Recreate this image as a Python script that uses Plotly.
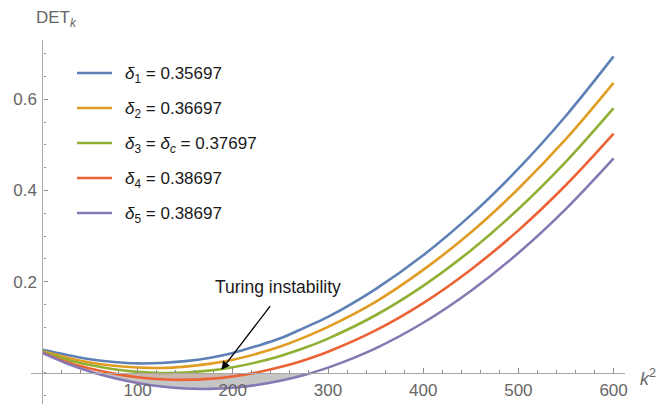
import plotly.graph_objects as go

# ---------------- data ----------------
k2 = [0, 25, 50, 75, 100, 125, 150, 175, 200, 225, 250, 275, 300, 350, 400, 450, 500, 550, 600]

det_d1 = [0.051, 0.040, 0.030, 0.024, 0.021, 0.022, 0.026, 0.033, 0.044, 0.059, 0.076, 0.099, 0.123,
          0.184, 0.258, 0.346, 0.448, 0.564, 0.694]
det_d2 = [0.048, 0.034, 0.023, 0.016, 0.012, 0.011, 0.014, 0.020, 0.029, 0.042, 0.058, 0.078, 0.101,
          0.156, 0.226, 0.308, 0.404, 0.513, 0.636]
det_d3 = [0.047, 0.0297, 0.0173, 0.0083, 0.0025, 0.0001, 0.001, 0.0051, 0.0126, 0.0233, 0.0374, 0.0547,
          0.0754, 0.1266, 0.191, 0.2686, 0.3595, 0.4635, 0.5807]
det_d4 = [0.045, 0.024, 0.0097, -0.0014, -0.0092, -0.0137, -0.015, -0.0129, -0.0076, 0.001, 0.0129,
          0.0281, 0.0466, 0.0934, 0.1533, 0.2265, 0.3127, 0.4121, 0.5247]
det_d5 = [0.044, 0.0214, 0.0035, -0.011, -0.0221, -0.0297, -0.034, -0.0349, -0.0324, -0.0265, -0.0172,
          -0.0044, 0.0117, 0.0541, 0.1101, 0.1798, 0.263, 0.3598, 0.4703]

# zero crossings (k^2) of the negative parts
red_zero = [72, 223]
purple_zero = [56, 282]

legend_labels = [
    "<i>δ</i><sub>1</sub> = 0.35697",
    "<i>δ</i><sub>2</sub> = 0.36697",
    "<i>δ</i><sub>3</sub> = <i>δ</i><sub><i>c</i></sub> = 0.37697",
    "<i>δ</i><sub>4</sub> = 0.38697",
    "<i>δ</i><sub>5</sub> = 0.38697",
]
x_ticks = [100, 200, 300, 400, 500, 600]
y_ticks = [0.2, 0.4, 0.6]
y_tick_text = ["0.2", "0.4", "0.6"]

# ---------------- styling ----------------
colors = ["#5E81B5", "#E19C24", "#8FB032", "#EB6235", "#8778B3"]
series = [det_d1, det_d2, det_d3, det_d4, det_d5]
FONT = "Liberation Sans, Arial, sans-serif"
W, H = 657, 405
ML, MR, MT, MB = 31, 32, 40, 1
PW, PH = W - ML - MR, H - MT - MB
XR = [-12, 612]
YR = [-0.068, 0.73]


def px2paper(px, py):
    return (px - ML) / PW, 1 - (py - MT) / PH


fig = go.Figure()


def neg_part(vals, zeros):
    xs = [zeros[0]] + [k for k, v in zip(k2, vals) if v < 0] + [zeros[1]]
    ys = [0.0] + [v for v in vals if v < 0] + [0.0]
    return xs, ys


px_, py_ = neg_part(det_d5, purple_zero)
fig.add_trace(go.Scatter(x=px_, y=py_, mode="lines", line=dict(width=0, shape="spline"),
                         fill="tozeroy", fillcolor="rgba(150,150,150,0.55)", showlegend=False,
                         hoverinfo="skip"))
rx_, ry_ = neg_part(det_d4, red_zero)
fig.add_trace(go.Scatter(x=rx_, y=ry_, mode="lines", line=dict(width=0, shape="spline"),
                         fill="tozeroy", fillcolor="rgba(235,98,53,0.15)", showlegend=False,
                         hoverinfo="skip"))

for vals, c in zip(series, colors):
    fig.add_trace(go.Scatter(x=k2, y=vals, mode="lines",
                             line=dict(color=c, width=2.6, shape="spline", smoothing=1.0),
                             showlegend=False))

axis_line = "#a8a8a8"
tick_col = "#8c8c8c"
lab_col = "#666666"

fig.update_layout(
    width=W, height=H,
    margin=dict(l=ML, r=MR, t=MT, b=MB),
    paper_bgcolor="white", plot_bgcolor="white",
    showlegend=False,
    xaxis=dict(range=XR, anchor="free", position=(0 - YR[0]) / (YR[1] - YR[0]),
               showline=True, linecolor=axis_line, linewidth=1.2,
               showgrid=False, zeroline=False,
               tickmode="array", tickvals=x_ticks, ticktext=[str(v) for v in x_ticks],
               ticks="inside", ticklen=4.5, tickwidth=1, tickcolor=tick_col,
               tickfont=dict(family=FONT, size=17, color=lab_col),
               ticklabelstandoff=2,
               minor=dict(ticks="inside", ticklen=2.5, tickwidth=1, tickcolor=tick_col,
                          tickmode="linear", tick0=0, dtick=20),
               automargin=False, fixedrange=True),
    yaxis=dict(range=YR, anchor="free", position=(0 - XR[0]) / (XR[1] - XR[0]),
               showline=True, linecolor=axis_line, linewidth=1.2,
               showgrid=False, zeroline=False,
               tickmode="array", tickvals=y_ticks, ticktext=y_tick_text,
               ticks="inside", ticklen=4.5, tickwidth=1, tickcolor=tick_col,
               tickfont=dict(family=FONT, size=17, color=lab_col),
               ticklabelstandoff=2,
               minor=dict(ticks="inside", ticklen=2.5, tickwidth=1, tickcolor=tick_col,
                          tickmode="linear", tick0=0, dtick=0.05),
               automargin=False, fixedrange=True),
)

# axis labels
ax_, ay_ = px2paper(34, 19)
fig.add_annotation(x=ax_, y=ay_, xref="paper", yref="paper", xanchor="left", yanchor="middle",
                   text="DET<sub><i>k</i></sub>", showarrow=False,
                   font=dict(family=FONT, size=17, color=lab_col))
kx_, ky_ = px2paper(638, 377)
fig.add_annotation(x=kx_, y=ky_, xref="paper", yref="paper", xanchor="left", yanchor="middle",
                   text="<i>k</i><sup>2</sup>", showarrow=False,
                   font=dict(family=FONT, size=18, color=lab_col))

# manual legend
rows = [73, 108, 143, 178, 213]
for lab, c, ry in zip(legend_labels, colors, rows):
    x0, y0 = px2paper(77, ry)
    x1, _ = px2paper(112, ry)
    fig.add_shape(type="line", xref="paper", yref="paper", x0=x0, x1=x1, y0=y0, y1=y0,
                  line=dict(color=c, width=2.6))
    tx, ty = px2paper(123, ry + 2)
    fig.add_annotation(x=tx, y=ty, xref="paper", yref="paper", xanchor="left", yanchor="middle",
                       text=lab, showarrow=False, font=dict(family=FONT, size=17, color="#1a1a1a"))

# Turing instability annotation with arrow
fig.add_annotation(x=247, y=0.189, xref="x", yref="y", text="Turing instability", showarrow=False,
                   font=dict(family=FONT, size=17.5, color="#1a1a1a"))
fig.add_annotation(x=188, y=0.007, xref="x", yref="y", ax=240.5, ay=0.150, axref="x", ayref="y",
                   text="", showarrow=True, arrowhead=2, arrowsize=1.3, arrowwidth=1.3,
                   arrowcolor="black", standoff=0)

fig.write_html("out.html", config={"displayModeBar": False},
               post_script="document.body.style.margin='0';document.body.style.overflow='hidden';")
